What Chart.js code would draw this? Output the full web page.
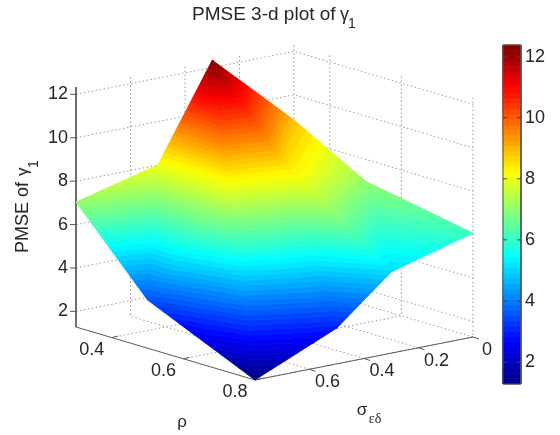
<!DOCTYPE html>
<html>
<head>
<meta charset="UTF-8">
<title>PMSE 3-d plot</title>
<style>
  body { margin: 0; background: #fff; }
  canvas { display: block; }
</style>
</head>
<body>
<canvas id="chart" width="560" height="435"></canvas>
<script src="https://cdn.jsdelivr.net/npm/chart.js"></script>
<script>
// surface grid
const rhoValues = [0.3, 0.5, 0.8];
const sigmaValues = [0, 0.3, 0.5, 0.8];
const pmseRho03 = [8.84, 12.34, 8.0, 7.04];
const pmseRho05 = [7.0, 8.6, 8.0, 3.5];
const pmseRho08 = [6.07, 5.02, 2.93, 1.28];
const pmseRows = [pmseRho03, pmseRho05, pmseRho08];

const zTicks = [2, 4, 6, 8, 10, 12];
const rhoTicks = [0.4, 0.6, 0.8];
const sigmaTicks = [0, 0.2, 0.4, 0.6];
const barTicks = [2, 4, 6, 8, 10, 12];

const zMin = 1.28, zMax = 12.34;
const rhoMin = 0.3, rhoMax = 0.8, sigmaMin = 0, sigmaMax = 0.8;
const barMin = 1.28, barMax = 12.38;

// view of the 3-d box, front bottom corner is rho max / sigma max
const front = { x: 255, y: 380 };
const rhoAxis = { dx: -179, dy: -53 };
const sigmaAxis = { dx: 218, dy: -43 };
const zScale = 21.7;
const bar = { left: 503, right: 521, top: 45, bottom: 384 };

function project(rho, sigma, z) {
  const a = (rhoMax - rho) / (rhoMax - rhoMin);
  const b = (sigmaMax - sigma) / (sigmaMax - sigmaMin);
  return {
    x: front.x + a * rhoAxis.dx + b * sigmaAxis.dx,
    y: front.y + a * rhoAxis.dy + b * sigmaAxis.dy - (z - zMin) * zScale
  };
}
function barY(z) {
  return bar.bottom - (z - barMin) / (barMax - barMin) * (bar.bottom - bar.top);
}

// matlab jet(64)
function jet(i) {
  const t = (i + 0.5) / 64;
  const ch = function (v) { return Math.round(255 * Math.max(0, Math.min(1, v))); };
  const r = ch(Math.min(4 * t - 1.5, -4 * t + 4.5));
  const g = ch(Math.min(4 * t - 0.5, -4 * t + 3.5));
  const b = ch(Math.min(4 * t + 0.5, -4 * t + 2.5));
  return 'rgb(' + r + ',' + g + ',' + b + ')';
}

// cut a triangle down to the part between two heights
function clipPoly(pts, level, keepAbove) {
  const out = [];
  for (let i = 0; i < pts.length; i++) {
    const p = pts[i], q = pts[(i + 1) % pts.length];
    const pIn = keepAbove ? p.z >= level : p.z <= level;
    const qIn = keepAbove ? q.z >= level : q.z <= level;
    if (pIn) out.push(p);
    if (pIn !== qIn) {
      const t = (level - p.z) / (q.z - p.z);
      out.push({
        rho: p.rho + t * (q.rho - p.rho),
        sigma: p.sigma + t * (q.sigma - p.sigma),
        z: level
      });
    }
  }
  return out;
}

const datasets = [];

function addLine(points, color, width, dash) {
  datasets.push({
    data: points, showLine: true, fill: false, borderColor: color, borderWidth: width,
    borderDash: dash || [], pointRadius: 0, clip: false
  });
}
function addShape(points, color) {
  const closed = points.concat([points[0]]);
  datasets.push({
    data: closed, showLine: true, fill: 'shape', backgroundColor: color, borderColor: color,
    borderWidth: 0.8, pointRadius: 0, clip: false
  });
}

// dotted grid on the two back walls and the floor
const gridColor = '#9a9a9a', gridDash = [1.5, 2.5];
zTicks.forEach(function (z) {
  addLine([project(rhoMin, sigmaMax, z), project(rhoMin, sigmaMin, z), project(rhoMax, sigmaMin, z)], gridColor, 1, gridDash);
});
sigmaTicks.forEach(function (s) {
  addLine([project(rhoMax, s, zMin), project(rhoMin, s, zMin), project(rhoMin, s, zMax)], gridColor, 1, gridDash);
});
rhoTicks.forEach(function (r) {
  addLine([project(r, sigmaMax, zMin), project(r, sigmaMin, zMin), project(r, sigmaMin, zMax)], gridColor, 1, gridDash);
});

// solid axes and their ticks
const axisColor = '#5a5a5a';
addLine([project(rhoMin, sigmaMax, zMax), project(rhoMin, sigmaMax, zMin), project(rhoMax, sigmaMax, zMin), project(rhoMax, sigmaMin, zMin)], axisColor, 1);
zTicks.forEach(function (z) {
  const p = project(rhoMin, sigmaMax, z);
  addLine([p, { x: p.x - 6, y: p.y }], axisColor, 1);
});
rhoTicks.forEach(function (r) {
  const p = project(r, sigmaMax, zMin);
  addLine([p, { x: p.x + 6, y: p.y - 1.5 }], axisColor, 1);
});
sigmaTicks.forEach(function (s) {
  const p = project(rhoMax, s, zMin);
  addLine([p, { x: p.x + 6, y: p.y + 2 }], axisColor, 1);
});

// surface: two triangles per grid cell, cut into the 64 colour bands, back to front
const bandStep = (zMax - zMin) / 64;
for (let i = 0; i < rhoValues.length - 1; i++) {
  for (let j = 0; j < sigmaValues.length - 1; j++) {
    const c = function (a, b) { return { rho: rhoValues[a], sigma: sigmaValues[b], z: pmseRows[a][b] }; };
    const tris = [[c(i, j), c(i, j + 1), c(i + 1, j + 1)], [c(i, j), c(i + 1, j + 1), c(i + 1, j)]];
    tris.forEach(function (tri) {
      for (let k = 0; k < 64; k++) {
        let poly = clipPoly(tri, zMin + k * bandStep, true);
        if (poly.length) poly = clipPoly(poly, zMin + (k + 1) * bandStep, false);
        if (poly.length >= 3) {
          addShape(poly.map(function (p) { return project(p.rho, p.sigma, p.z); }), jet(k));
        }
      }
    });
  }
}

// colour bar
for (let k = 0; k < 64; k++) {
  const y0 = barY(barMin + k * (barMax - barMin) / 64), y1 = barY(barMin + (k + 1) * (barMax - barMin) / 64);
  addShape([{ x: bar.left, y: y0 }, { x: bar.right, y: y0 }, { x: bar.right, y: y1 }, { x: bar.left, y: y1 }], jet(k));
}
addLine([{ x: bar.left, y: bar.top }, { x: bar.right, y: bar.top }, { x: bar.right, y: bar.bottom }, { x: bar.left, y: bar.bottom }, { x: bar.left, y: bar.top }], '#555', 1);
barTicks.forEach(function (z) {
  addLine([{ x: bar.left, y: barY(z) }, { x: bar.left + 4, y: barY(z) }], '#444', 1);
  addLine([{ x: bar.right - 4, y: barY(z) }, { x: bar.right, y: barY(z) }], '#444', 1);
});

// chart.js paints the first dataset last
datasets.reverse();

const textColor = '#262626';
const sansFont = '"Liberation Sans", Arial, sans-serif';
const tickSize = 18;

const labelPlugin = {
  id: 'labels',
  afterDraw: function (chart) {
    const ctx = chart.ctx, sx = chart.scales.x, sy = chart.scales.y;
    const put = function (text, x, y, size, align, base, family) {
      ctx.font = size + 'px ' + (family || sansFont);
      ctx.textAlign = align || 'center';
      ctx.textBaseline = base || 'middle';
      ctx.fillText(text, sx.getPixelForValue(x), sy.getPixelForValue(y));
    };
    ctx.save();
    ctx.fillStyle = textColor;

    // title
    put('PMSE 3-d plot of', 192, 20, 19, 'left', 'alphabetic');
    put('γ', 340, 20, 18, 'left', 'alphabetic');
    put('1', 348, 28, 14, 'left', 'alphabetic');

    zTicks.forEach(function (z) {
      put(String(z), 68, project(rhoMin, sigmaMax, z).y, tickSize, 'right');
    });
    rhoTicks.forEach(function (r) {
      const p = project(r, sigmaMax, zMin);
      put(r.toFixed(1), p.x - 20, p.y + 12.5, tickSize);
    });
    sigmaTicks.forEach(function (s) {
      const p = project(rhoMax, s, zMin);
      put(s === 0 ? '0' : s.toFixed(1), p.x + (s === 0 ? 14 : 18), p.y + 13, tickSize);
    });
    barTicks.forEach(function (z) {
      put(String(z), 525, barY(z), tickSize, 'left');
    });

    put('ρ', 182, 422, 17);
    put('σ', 362, 410, 17);
    put('εδ', 375, 419, 14, 'center', 'middle', '"Liberation Serif", serif');

    // rotated y label
    ctx.save();
    ctx.translate(28, 253);
    ctx.rotate(-Math.PI / 2);
    ctx.textAlign = 'left';
    ctx.textBaseline = 'alphabetic';
    ctx.font = '18px ' + sansFont;
    ctx.fillText('PMSE of', 0, 0);
    ctx.font = '17px ' + sansFont;
    ctx.fillText('γ', 77, 0);
    ctx.font = '14px ' + sansFont;
    ctx.fillText('1', 85, 10);
    ctx.restore();

    ctx.restore();
  }
};

new Chart(document.getElementById('chart').getContext('2d'), {
  type: 'scatter',
  data: { datasets: datasets },
  options: {
    responsive: false,
    animation: false,
    events: [],
    layout: { padding: 0 },
    elements: { line: { tension: 0 } },
    plugins: { legend: { display: false }, tooltip: { enabled: false }, title: { display: false } },
    scales: {
      x: { type: 'linear', display: false, min: 0, max: 560 },
      y: { type: 'linear', display: false, min: 0, max: 435, reverse: true }
    }
  },
  plugins: [labelPlugin]
});
</script>
</body>
</html>
